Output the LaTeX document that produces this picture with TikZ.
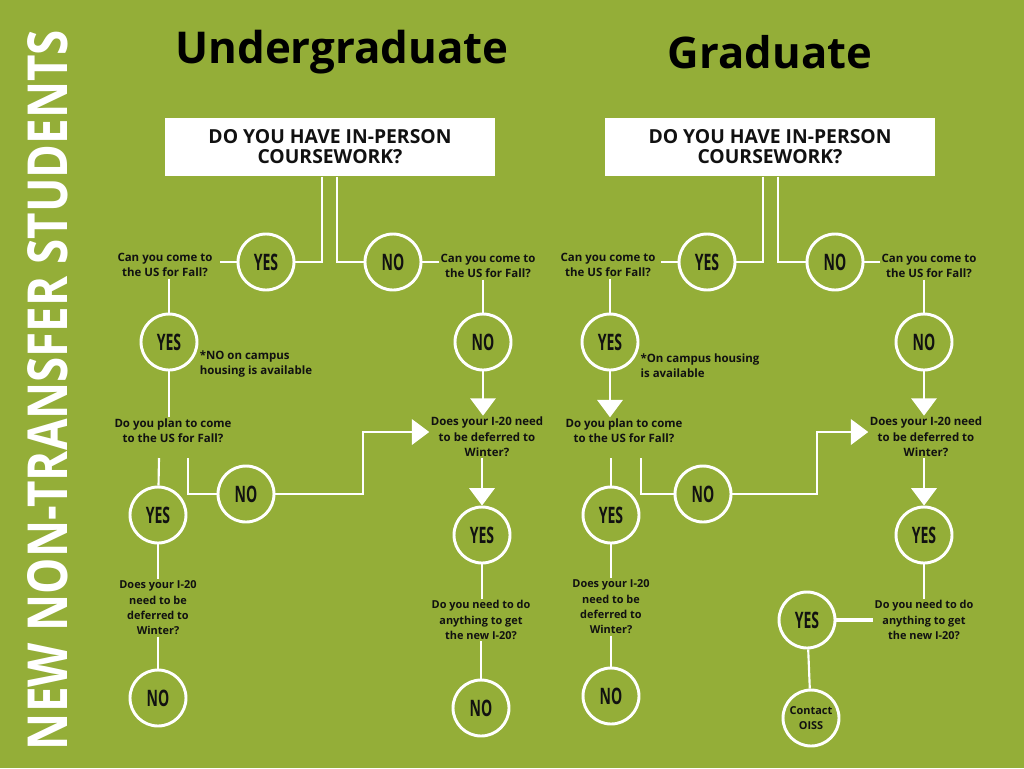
\documentclass[tikz,border=0pt]{standalone}
\usepackage{fontspec}
\setmainfont{Open Sans}
\usetikzlibrary{arrows.meta}
\definecolor{bg}{HTML}{94AE38}
\definecolor{ink}{HTML}{111111}
\begin{document}
\begin{tikzpicture}[x=0.75pt,y=-0.75pt,
  circ/.style={circle,draw=white,line width=2.2pt,fill=bg,minimum size=42pt,inner sep=0pt,text=ink,font=\bfseries\fontsize{17}{17}\selectfont},
  q/.style={align=center,text=ink,font=\bfseries\fontsize{8.6}{11.5}\selectfont,inner sep=1pt},
  qn/.style={q,font=\bfseries\fontsize{8.2}{11.5}\selectfont},
  ln/.style={draw=white,line width=1.6pt},
  arr/.style={ln,-{Triangle[width=19pt,length=13pt]}},
  box/.style={fill=white,minimum width=247.5pt,minimum height=44pt,align=center,text=ink,font=\bfseries\fontsize{14.5}{15}\selectfont}]
\newcommand{\yn}[1]{\scalebox{0.62}[1]{#1}}
\fill[bg] (0,0) rectangle (1024,768);
\useasboundingbox (0,0) rectangle (1024,768);
% side & titles
\node[text=white,rotate=90,inner sep=0] (side) at (48,390) {\resizebox{540pt}{30pt}{\bfseries NEW NON-TRANSFER STUDENTS}};
\node[text=black,inner sep=0] (t1) at (342,52) {\resizebox{250pt}{!}{\bfseries Undergraduate}};
\node[text=black,inner sep=0] (t2) at (770,52) {\resizebox{153pt}{!}{\bfseries Graduate}};
% ================= LEFT
\node[box] (b1) at (330,147) {DO YOU HAVE IN-PERSON\\COURSEWORK?};
\node[circ] (y1) at (266,262) {\yn{YES}};
\node[circ] (n1) at (393,262) {\yn{NO}};
\draw[ln] (b1.south -| 322,0) |- (y1);
\draw[ln] (b1.south -| 337,0) |- (n1);
\node[q] (q1) at (165,265) {Can you come to\\the US for Fall?};
\node[q] (q1r) at (488,266) {Can you come to\\the US for Fall?};
\draw[ln] (y1.west) -- (220,262);
\draw[ln] (n1.east) -- (q1r.west |- n1);
\node[circ] (y2) at (169,342) {\yn{YES}};
\draw[ln] (q1.south -| y2) -- (y2);
\node[q,align=left] (note1) at (256,364) {*NO on campus\\housing is available};
\node[q] (q2) at (173,431) {Do you plan to come\\to the US for Fall?};
\draw[ln] (y2) -- (q2.north -| y2);
\node[circ] (y3) at (158,515) {\yn{YES}};
\node[circ] (n3) at (246,494) {\yn{NO}};
\draw[ln] (159,458) -- (y3);
\draw[ln] (188,458) |- (n3);
\node[circ] (n2) at (483,342) {\yn{NO}};
\draw[ln] (q1r.south -| n2) -- (n2);
\node[q] (q3) at (487,437) {Does your I-20 need\\to be deferred to\\Winter?};
\draw[arr] (n2) -- (n2 |- q3.north);
\draw[arr] (n3) -| (363,432) -- (q3.west |- 0,432);
\node[circ] (y4) at (482,535) {\yn{YES}};
\draw[arr] (q3.south -| y4) -- (y4);
\node[qn] (q4) at (481,620) {Do you need to do\\anything to get\\the new I-20?};
\draw[ln] (y4) -- (q4.north -| y4);
\node[circ] (n4) at (481,708) {\yn{NO}};
\draw[ln] (q4) -- (n4);
\node[qn] (q5) at (158,608) {Does your I-20\\need to be\\deferred to\\Winter?};
\draw[ln] (y3) -- (q5);
\node[circ] (n5) at (158,698) {\yn{NO}};
\draw[ln] (q5) -- (n5);
% ================= RIGHT
\node[box] (b2) at (770,147) {DO YOU HAVE IN-PERSON\\COURSEWORK?};
\node[circ] (ry1) at (707,262) {\yn{YES}};
\node[circ] (rn1) at (835,262) {\yn{NO}};
\draw[ln] (b2.south -| 763,0) |- (ry1);
\draw[ln] (b2.south -| 778,0) |- (rn1);
\node[q] (rq1) at (608,265) {Can you come to\\the US for Fall?};
\node[q] (rq1r) at (929,266) {Can you come to\\the US for Fall?};
\draw[ln] (ry1.west) -- (661,262);
\draw[ln] (rn1.east) -- (rq1r.west |- rn1);
\node[circ] (ry2) at (610,342) {\yn{YES}};
\draw[ln] (rq1.south -| ry2) -- (ry2);
\node[q,align=left] (note2) at (700,366) {*On campus housing\\is available};
\node[q] (rq2) at (624,431) {Do you plan to come\\to the US for Fall?};
\draw[arr] (ry2) -- (ry2 |- rq2.north);
\node[circ] (ry3) at (611,515) {\yn{YES}};
\node[circ] (rn3) at (703,494) {\yn{NO}};
\draw[ln] (611,458) -- (ry3);
\draw[ln] (641,458) |- (rn3);
\node[circ] (rn2) at (924,342) {\yn{NO}};
\draw[ln] (rq1r.south -| rn2) -- (rn2);
\node[q] (rq3) at (926,437) {Does your I-20 need\\to be deferred to\\Winter?};
\draw[arr] (rn2) -- (rn2 |- rq3.north);
\draw[arr] (rn3) -| (817,432) -- (rq3.west |- 0,432);
\node[circ] (ry4) at (924,535) {\yn{YES}};
\draw[arr] (rq3.south -| ry4) -- (ry4);
\node[qn] (rq4) at (924,620) {Do you need to do\\anything to get\\the new I-20?};
\draw[ln] (ry4) -- (rq4.north -| ry4);
\node[circ] (ry5) at (807,620) {\yn{YES}};
\draw[ln,line width=2.5pt] (ry5) -- (rq4.west |- ry5);
\node[circ,font=\bfseries\fontsize{8.2}{11}\selectfont,align=center] (oiss) at (811,718) {Contact\\OISS};
\draw[ln] (ry5) -- (oiss);
\node[qn] (rq5) at (611,607) {Does your I-20\\need to be\\deferred to\\Winter?};
\draw[ln] (ry3) -- (rq5);
\node[circ] (rn5) at (611,696) {\yn{NO}};
\draw[ln] (rq5) -- (rn5);
\end{tikzpicture}
\end{document}
